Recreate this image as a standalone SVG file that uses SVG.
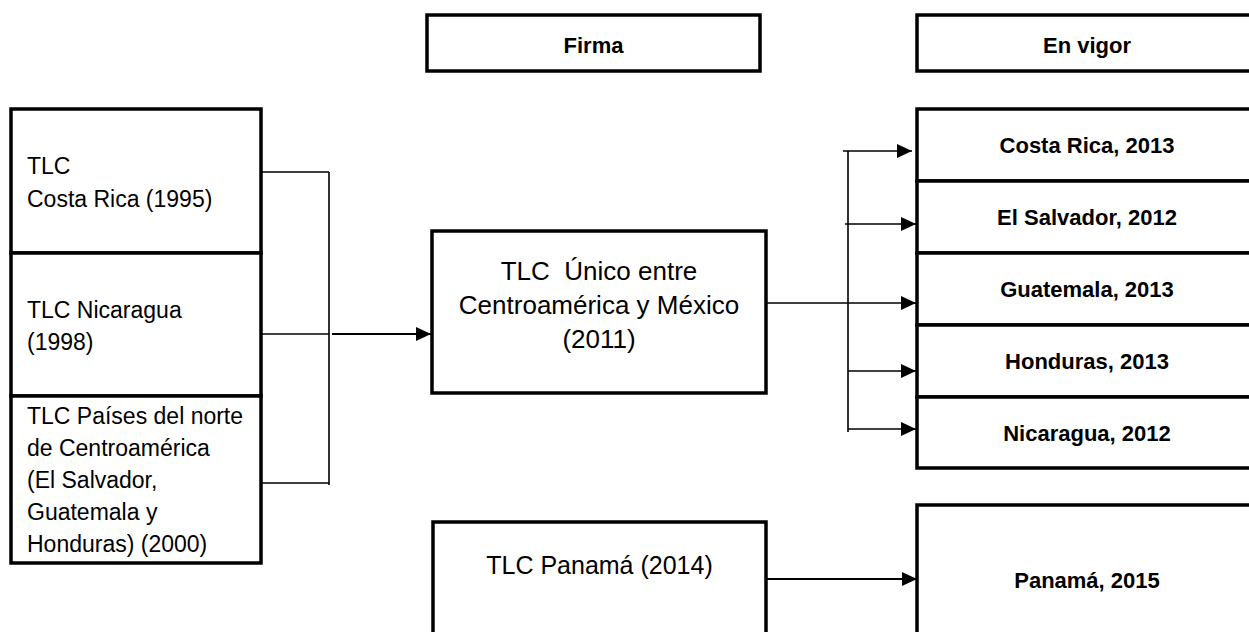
<svg xmlns="http://www.w3.org/2000/svg" width="1249" height="632" viewBox="0 0 1249 632">
<style>
.box{fill:#fff;stroke:#000;stroke-width:3.5}
.ln{fill:none;stroke:#000;stroke-width:1.6}
.t{font-family:"Liberation Sans",Arial,sans-serif;font-size:23px;fill:#000}
.m{font-family:"Liberation Sans",Arial,sans-serif;font-size:26px;fill:#000;text-anchor:middle}
.b{font-family:"Liberation Sans",Arial,sans-serif;font-size:22px;font-weight:bold;fill:#000;text-anchor:middle}
</style>
<defs>
<marker id="ah" viewBox="0 0 10 10" refX="10" refY="5" markerWidth="15" markerHeight="14" markerUnits="userSpaceOnUse" orient="auto" preserveAspectRatio="none">
<path d="M0,0 L10,5 L0,10 Z" fill="#000"/>
</marker>
</defs>
<rect width="1249" height="632" fill="#fff"/>

<g id="connectors">
<path class="ln" d="M261,172 H329 M257,334 H329 M261,483 H329 M329,172 V485"/>
<path class="ln" d="M332,334 H431" marker-end="url(#ah)" style="stroke-width:1.8"/>
<path class="ln" d="M766,303 H848 M848,151 V432"/>
<path class="ln" d="M843,151 H912" marker-end="url(#ah)"/>
<path class="ln" d="M845,224 H916" marker-end="url(#ah)"/>
<path class="ln" d="M848,303 H916" marker-end="url(#ah)"/>
<path class="ln" d="M848,371 H916" marker-end="url(#ah)"/>
<path class="ln" d="M848,429 H916" marker-end="url(#ah)"/>
<path class="ln" d="M766,579 H917" marker-end="url(#ah)" style="stroke-width:1.8"/>
</g>

<g id="firma">
<rect class="box" x="427" y="15" width="333" height="56"/>
<text class="b" x="593.5" y="53">Firma</text>
</g>
<g id="envigor">
<rect class="box" x="917" y="15" width="340" height="56"/>
<text class="b" x="1087" y="53">En vigor</text>
</g>

<g id="tlc-costarica">
<rect class="box" x="11" y="109" width="250" height="144"/>
<text class="t" x="27" y="174">TLC</text>
<text class="t" x="27" y="207">Costa Rica (1995)</text>
</g>
<g id="tlc-nicaragua">
<rect class="box" x="11" y="253" width="250" height="143"/>
<text class="t" x="27" y="318">TLC Nicaragua</text>
<text class="t" x="27" y="350">(1998)</text>
</g>
<g id="tlc-norte">
<rect class="box" x="11" y="396" width="250" height="167"/>
<text class="t" x="27" y="424">TLC Países del norte</text>
<text class="t" x="27" y="456">de Centroamérica</text>
<text class="t" x="27" y="488">(El Salvador,</text>
<text class="t" x="27" y="520">Guatemala y</text>
<text class="t" x="27" y="552">Honduras) (2000)</text>
</g>

<g id="tlc-unico">
<rect class="box" x="432" y="231" width="334" height="162"/>
<text class="m" x="599" y="280" xml:space="preserve">TLC  Único entre</text>
<text class="m" x="599" y="314">Centroamérica y México</text>
<text class="m" x="599" y="348">(2011)</text>
</g>

<g id="costarica-2013">
<rect class="box" x="917" y="109" width="340" height="72"/>
<text class="b" x="1087" y="153">Costa Rica, 2013</text>
</g>
<g id="elsalvador-2012">
<rect class="box" x="917" y="181" width="340" height="72"/>
<text class="b" x="1087" y="225">El Salvador, 2012</text>
</g>
<g id="guatemala-2013">
<rect class="box" x="917" y="253" width="340" height="72"/>
<text class="b" x="1087" y="297">Guatemala, 2013</text>
</g>
<g id="honduras-2013">
<rect class="box" x="917" y="325" width="340" height="72"/>
<text class="b" x="1087" y="369">Honduras, 2013</text>
</g>
<g id="nicaragua-2012">
<rect class="box" x="917" y="397" width="340" height="71"/>
<text class="b" x="1087" y="441">Nicaragua, 2012</text>
</g>

<g id="tlc-panama">
<rect class="box" x="433" y="522" width="333" height="130"/>
<text class="m" x="599.5" y="574" style="font-size:25px">TLC Panamá (2014)</text>
</g>
<g id="panama-2015">
<rect class="box" x="917" y="505" width="340" height="147"/>
<text class="b" x="1087" y="588">Panamá, 2015</text>
</g>
</svg>
